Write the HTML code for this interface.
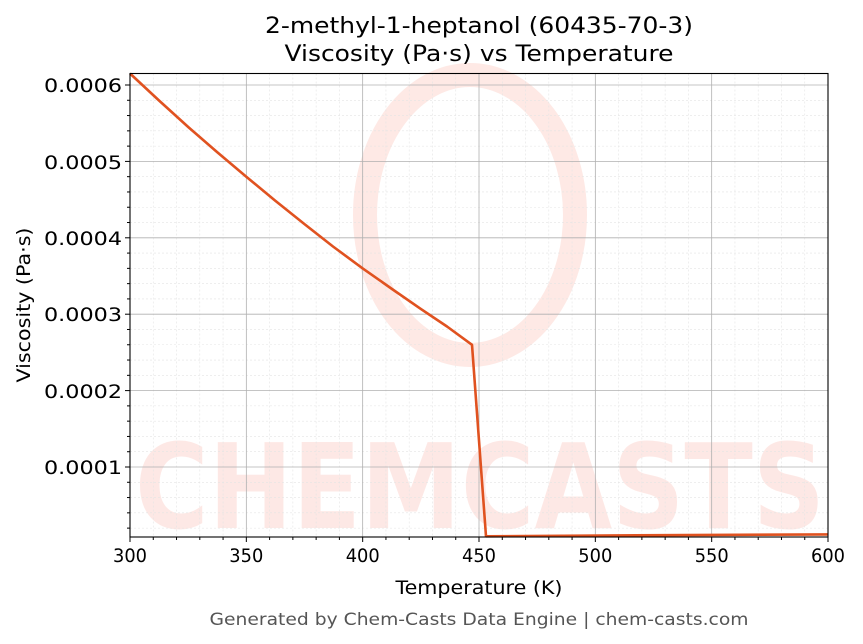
<!DOCTYPE html>
<html><head><meta charset="utf-8"><style>body{margin:0;background:#fff}svg{display:block}text{font-family:"DejaVu Sans","Liberation Sans",sans-serif}</style></head>
<body>
<svg width="863" height="644" viewBox="0 0 863 644" xmlns="http://www.w3.org/2000/svg">
<rect width="863" height="644" fill="#fff"/>
<g opacity="0.5">
<ellipse cx="470" cy="215" rx="105" ry="140" fill="none" stroke="#fdd3cc" stroke-width="24"/>
<text x="480" y="528" font-size="118" font-weight="bold" fill="#fdd3cc" text-anchor="middle" textLength="690" lengthAdjust="spacingAndGlyphs" font-family="Liberation Serif, serif">CHEMCASTS</text>
</g>
<g id="grid">
<g stroke="#e4e4e4" stroke-width="0.6" stroke-dasharray="2,2" id="minor"></g>
<g stroke="#b0b0b0" stroke-width="0.8" id="major"></g>
</g>
<polyline fill="none" stroke="#e05220" stroke-width="2.6" stroke-linejoin="round" points="130,73.5 159,100.5 188.2,127 217,152 246.3,176.7 275,200.5 304.5,224.1 333,246.5 362.7,268.4 392,289 420.8,308.9 447,326.5 472,344.8 486,536.3 600,535.5 828,534.4"/>
<rect x="130" y="73.5" width="698" height="463.5" fill="none" stroke="#000" stroke-width="1.1"/>
<g id="ticks" stroke="#000" stroke-width="1"></g>
<g font-size="19" fill="#000" text-anchor="middle">
<text class="t" x="130" y="562" textLength="34">300</text><text class="t" x="246.3" y="562" textLength="34">350</text><text class="t" x="362.7" y="562" textLength="34">400</text><text class="t" x="479" y="562" textLength="34">450</text><text class="t" x="595.3" y="562" textLength="34">500</text><text class="t" x="711.7" y="562" textLength="34">550</text><text class="t" x="828" y="562" textLength="34">600</text>
</g>
<g font-size="19" fill="#000" text-anchor="end">
<text class="t" x="122" y="92" textLength="78">0.0006</text><text class="t" x="122" y="169" textLength="78">0.0005</text><text class="t" x="122" y="245" textLength="78">0.0004</text><text class="t" x="122" y="321" textLength="78">0.0003</text><text class="t" x="122" y="398" textLength="78">0.0002</text><text class="t" x="122" y="474" textLength="78">0.0001</text>
</g>
<text class="t" x="479" y="594" font-size="19" text-anchor="middle" textLength="167">Temperature (K)</text>
<text class="t" transform="translate(30,305) rotate(-90)" font-size="19" text-anchor="middle" textLength="155">Viscosity (Pa·s)</text>
<text class="t" x="479" y="33" font-size="22" text-anchor="middle" textLength="428">2-methyl-1-heptanol (60435-70-3)</text>
<text class="t" x="479" y="61" font-size="22" text-anchor="middle" textLength="389">Viscosity (Pa·s) vs Temperature</text>
<text class="t" x="479" y="625" font-size="17" fill="#555" text-anchor="middle" textLength="539">Generated by Chem-Casts Data Engine | chem-casts.com</text>
<script>
var ns="http://www.w3.org/2000/svg";
document.querySelectorAll("text.t").forEach(function(t){t.setAttribute("lengthAdjust","spacingAndGlyphs");});
function L(g,x1,y1,x2,y2){var l=document.createElementNS(ns,"line");l.setAttribute("x1",x1);l.setAttribute("y1",y1);l.setAttribute("x2",x2);l.setAttribute("y2",y2);document.getElementById(g).appendChild(l);}
for(var T=300;T<=600;T+=10){var x=130+(T-300)*2.3267;if(T%50==0){L("major",x,73.5,x,537);L("ticks",x,537,x,542);}else{L("minor",x,73.5,x,537);L("ticks",x,537,x,540);}}
for(var k=1;k<=30;k++){var v=k*0.00002;var y=543.4-v*764000;if(y<73||y>537)continue;if(k%5==0){L("major",130,y,828,y);L("ticks",125,y,130,y);}else{L("minor",130,y,828,y);L("ticks",127,y,130,y);}}
</script>
</svg>
</body></html>
